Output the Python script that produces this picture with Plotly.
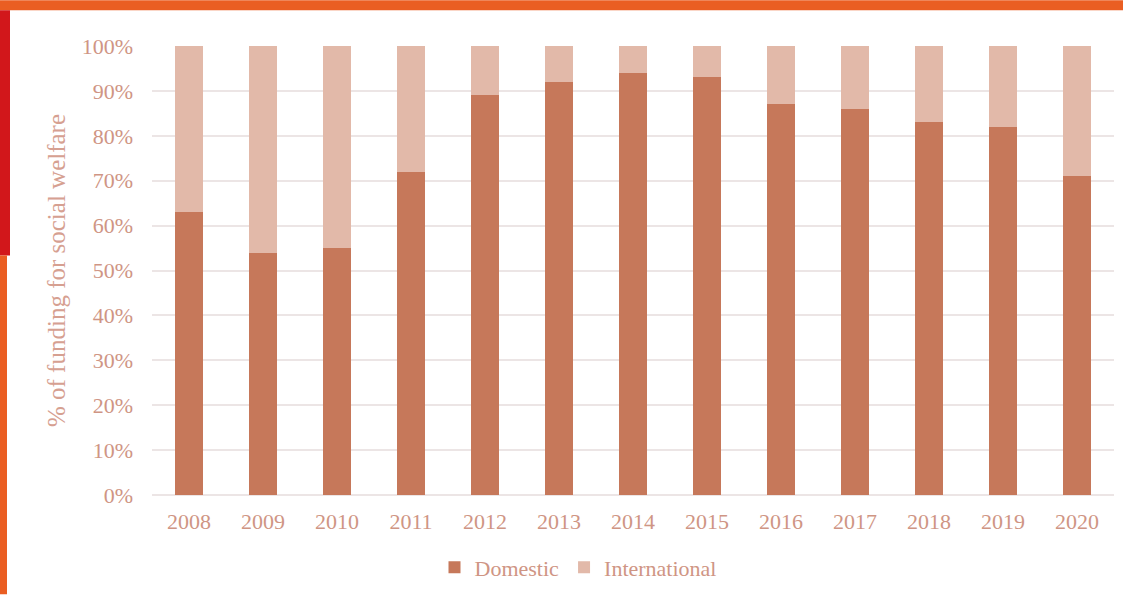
import plotly.graph_objects as go

years = ["2008", "2009", "2010", "2011", "2012", "2013", "2014", "2015", "2016", "2017", "2018", "2019", "2020"]
domestic = [63, 54, 55, 72, 89, 92, 94, 93, 87, 86, 83, 82, 71]
international = [100 - d for d in domestic]

W, H = 1123, 598
L, R, T, B = 152, 9, 46, 100
PW, PH = W - L - R, H - T - B

def px_x(x):
    return (x - L) / PW

def px_y(y):
    return (H - B - y) / PH

fig = go.Figure()
fig.add_bar(x=years, y=domestic, name="Domestic", marker_color="#C6785A", width=0.39, marker_line_width=0)
fig.add_bar(x=years, y=international, name="International", marker_color="#E2B9A9", width=0.39, marker_line_width=0)

text_col = "#CF9584"
serif = "Liberation Serif, Times New Roman, serif"
tick_font = dict(family=serif, size=22, color=text_col)

shapes = [
    dict(type="rect", xref="paper", yref="paper", x0=px_x(0), x1=px_x(W), y0=px_y(0), y1=px_y(10),
         fillcolor="#EA5E22", line_width=0, layer="above"),
    dict(type="rect", xref="paper", yref="paper", x0=px_x(0), x1=px_x(10), y0=px_y(10), y1=px_y(257),
         fillcolor="#D2171B", line_width=0, layer="above"),
    dict(type="rect", xref="paper", yref="paper", x0=px_x(0), x1=px_x(7), y0=px_y(257), y1=px_y(H),
         fillcolor="#EA5E22", line_width=0, layer="above"),
]

fig.update_layout(
    width=W, height=H,
    margin=dict(l=L, r=R, t=T, b=B),
    barmode="stack",
    plot_bgcolor="white", paper_bgcolor="white",
    font=tick_font,
    showlegend=True,
    legend=dict(orientation="h", x=px_x(578), xanchor="center", y=px_y(571), yanchor="middle",
                traceorder="normal",
                font=dict(family=serif, size=22, color=text_col),
                itemwidth=30, tracegroupgap=0),
    shapes=shapes,
    xaxis=dict(showgrid=False, showline=False, ticks="", tickfont=tick_font, ticklabelstandoff=11),
    yaxis=dict(range=[0, 100], dtick=10, ticksuffix="%", showgrid=True, gridcolor="#ECE5E5",
               gridwidth=1.5, zeroline=True, zerolinecolor="#ECE5E5", zerolinewidth=1.5, tickfont=tick_font,
               ticklabelstandoff=18,
               title=dict(text="% of funding for social welfare",
                          font=dict(family=serif, size=25, color="#D6A091"), standoff=8)),
)

fig.write_html(
    "out.html",
    config={"displayModeBar": False},
    post_script="document.body.style.margin='0';document.body.style.padding='0';"
                "document.body.style.overflow='hidden';document.documentElement.style.overflow='hidden';",
)
